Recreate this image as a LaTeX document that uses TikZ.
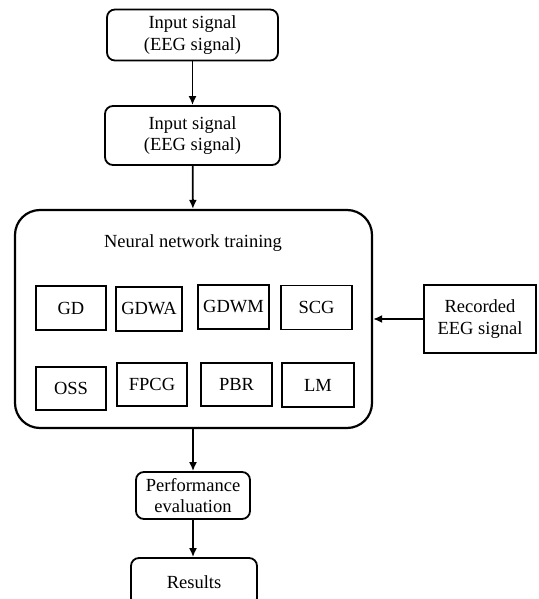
\documentclass[tikz,border=0pt]{standalone}
\usepackage{fontspec}
\setmainfont{Liberation Serif}
\usetikzlibrary{arrows.meta}
\begin{document}
\begin{tikzpicture}[x=1pt,y=-1pt,>={Latex[length=9pt,width=8pt]},
  box/.style={draw,line width=1.8pt,rounded corners=8pt,align=center,inner sep=0pt,font=\fontsize{18.5}{21.5}\selectfont},
  algo/.style={draw,line width=1.8pt,inner sep=0pt,minimum width=70pt,minimum height=44pt,font=\fontsize{18.5}{21.5}\selectfont},
  link/.style={->,line width=1.8pt}]
  \useasboundingbox (0,0) rectangle (538,599);
  \clip (0,0) rectangle (538,599);
  \node[box,minimum width=171pt,minimum height=51pt] (in1) at (192.5,35) {Input signal\\(EEG signal)};
  \node[box,minimum width=175pt,minimum height=59pt] (in2) at (192.5,135.5) {Input signal\\(EEG signal)};
  \node[box,line width=2.2pt,rounded corners=25pt,minimum width=357pt,minimum height=218pt] (nnt) at (193.5,319) {};
  \node[font=\fontsize{18.5}{21.5}\selectfont] (title) at (193,243) {Neural network training};
  \node[algo] (gd) at (71,308) {GD};
  \node[algo,minimum width=66pt] (gdwa) at (149,309) {GDWA};
  \node[algo,minimum width=71pt] (gdwm) at (233.5,307) {GDWM};
  \node[algo,minimum width=71pt] (scg) at (316.5,307.5) {SCG};
  \node[algo,minimum height=43pt] (oss) at (71,388.5) {OSS};
  \node[algo,minimum height=43pt] (fpcg) at (152,384.5) {FPCG};
  \node[algo,minimum width=71pt,minimum height=43pt] (pbr) at (236.5,384.5) {PBR};
  \node[algo,minimum width=72pt,minimum height=44pt] (lm) at (318,385) {LM};
  \node[box,rounded corners=0pt,minimum width=112pt,minimum height=68pt] (rec) at (480,319) {Recorded\\EEG signal};
  \node[box,minimum width=114pt,minimum height=47pt] (perf) at (193,495.5) {Performance\\evaluation};
  \node[box,minimum width=126pt,minimum height=48pt] (res) at (194,582) {Results};
  \draw[link] (in1) -- (in2);
  \draw[link] (in2) -- (nnt);
  \draw[link] (rec) -- (nnt);
  \draw[link] (nnt.south -| perf.north) -- (perf);
  \draw[link] (perf) -- (res.north -| perf.south);
\end{tikzpicture}
\end{document}
